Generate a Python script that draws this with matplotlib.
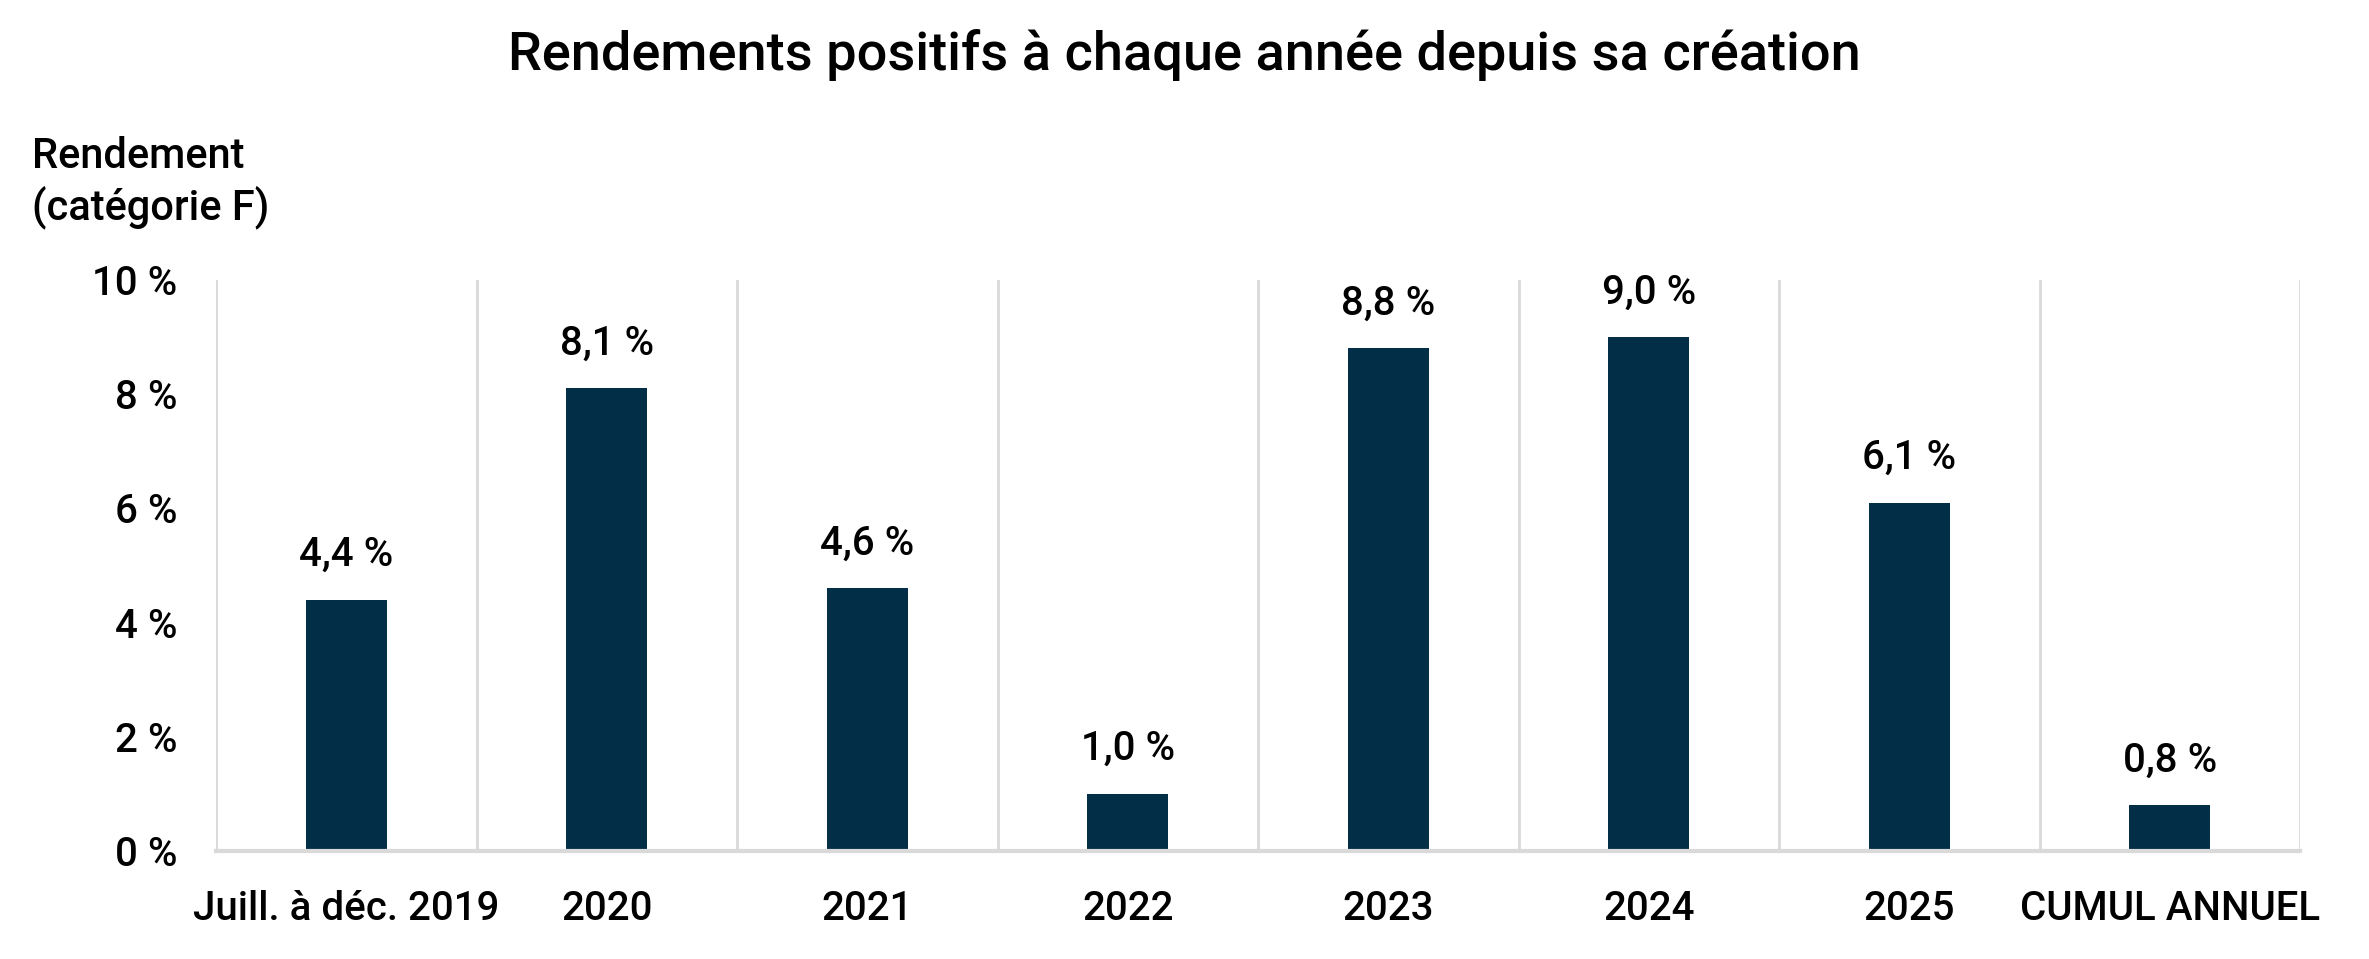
import matplotlib.pyplot as plt

categories = ['Juill. à déc. 2019', '2020', '2021', '2022', '2023', '2024', '2025', 'CUMUL ANNUEL']
returns = [4.4, 8.1, 4.6, 1.0, 8.8, 9.0, 6.1, 0.8]
y_ticks = [0, 2, 4, 6, 8, 10]

plt.rcParams['font.family'] = ['Roboto', 'DejaVu Sans']
plt.rcParams['font.weight'] = 'medium'

bar_color = '#022e47'
grid_color = '#d9d9d9'

fig = plt.figure(figsize=(23.69, 9.59), dpi=100)
ax = fig.add_axes([0.0912, 0.1126, 0.8797, 0.5955])

x = list(range(len(categories)))
ax.bar(x, returns, width=0.31, color=bar_color, zorder=3)
for xi, v in zip(x, returns):
    ax.text(xi, v + 0.45, f'{v:.1f} %'.replace('.', ','), ha='center', va='bottom',
            fontsize=29, color='black')

# vertical separators between categories
for b in [i - 0.5 for i in range(len(categories) + 1)]:
    ax.axvline(b, color=grid_color, lw=2, zorder=1)

ax.set_xlim(-0.5, len(categories) - 0.5)
ax.set_ylim(0, 10)
ax.set_yticks(y_ticks)
ax.set_yticklabels([f'{t} %' for t in y_ticks], fontsize=29)
ax.set_xticks(x)
ax.set_xticklabels(categories, fontsize=29)
ax.tick_params(axis='both', length=0)
ax.tick_params(axis='y', pad=28)
ax.tick_params(axis='x', pad=28)

for s in ['top', 'right', 'left']:
    ax.spines[s].set_visible(False)
ax.spines['bottom'].set_color(grid_color)
ax.spines['bottom'].set_linewidth(3)
ax.spines['bottom'].set_zorder(4)

fig.text(0.5, 0.943, 'Rendements positifs à chaque année depuis sa création',
         ha='center', va='center', fontsize=39)
fig.text(0.0135, 0.81, 'Rendement\n(catégorie F)', ha='left', va='center',
         fontsize=30, linespacing=1.25)

fig.savefig('out.png', dpi=100)
